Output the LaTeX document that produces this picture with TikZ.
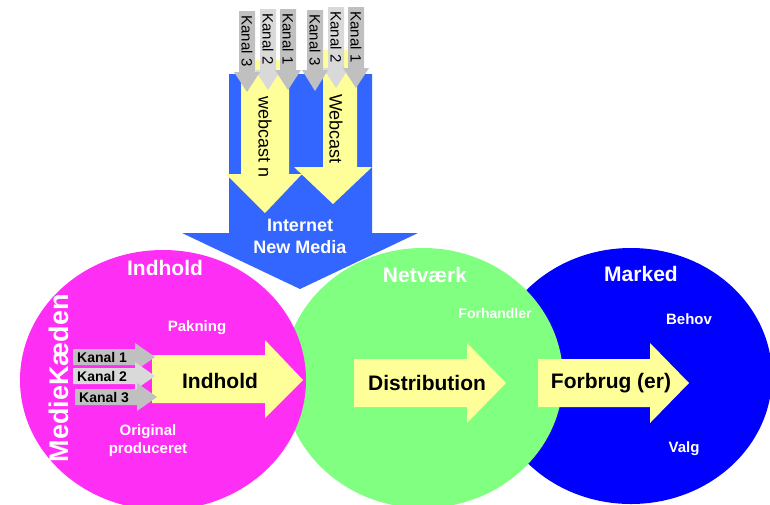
\documentclass[tikz,border=0pt]{standalone}
\usepackage{fontspec}
\setmainfont{Liberation Sans}
\usetikzlibrary{positioning}
\definecolor{kpink}{HTML}{FF2EF5}
\definecolor{kgreen}{HTML}{80FF80}
\definecolor{kblue}{HTML}{0000FF}
\definecolor{netblue}{HTML}{3366FF}
\definecolor{kyellow}{HTML}{FFFF99}
\definecolor{kgray}{HTML}{C0C0C0}
\definecolor{klight}{HTML}{D9D9D9}

\begin{document}
\begin{tikzpicture}[x=1pt, y=-1pt,
  title/.style={text=white, font=\fontsize{21}{25}\selectfont\bfseries},
  small/.style={text=white, font=\fontsize{15}{18}\selectfont\bfseries},
  arrowtext/.style={font=\fontsize{21}{25}\selectfont\bfseries},
  kanal/.style={font=\fontsize{14}{16}\selectfont\bfseries, inner sep=0pt},
  vkanal/.style={font=\fontsize{15}{17}\selectfont, rotate=-90, inner sep=0pt}]
\useasboundingbox (0,0) rectangle (770,504);

% Marked, Netvaerk and Indhold
\fill[kblue] (631,376) ellipse [x radius=141, y radius=128];
\fill[kgreen] (423,378) ellipse [x radius=140, y radius=130];
\fill[kpink] (163,380) ellipse [x radius=143, y radius=130];

\node[title] (indhold) at (165,268) {Indhold};
\node[small] (pakning) at (197,328) {Pakning};
\node[small, align=center] (original) at (148,441) {Original\\produceret};
\node[text=white, font=\fontsize{27}{30}\selectfont\bfseries, rotate=90] (kaeden) at (59,378) {MedieKæden};
\node[title] (netvaerk) at (425,275) {Netværk};
\node[small, font=\fontsize{14}{17}\selectfont\bfseries] (forhandler) at (495,313) {Forhandler};
\node[title] (marked) at (641,274) {Marked};
\node[small] (behov) at (689,319) {Behov};
\node[small] (valg) at (684,449) {Valg};

% Internet arrow
\fill[netblue] (229,74) -- (372,74) -- (372,233) -- (418,233) -- (300,289) -- (182,233) -- (229,233) -- cycle;
\node[small, font=\fontsize{18}{22}\selectfont\bfseries, align=center] (internet) at (300,236) {Internet\\New Media};

% Webcasts
\fill[kyellow] (241,60) -- (289,60) -- (289,174) -- (302,174) -- (265,213) -- (226,174) -- (241,174) -- cycle;
\fill[kyellow] (323,50) -- (357,50) -- (357,167) -- (372,167) -- (333,204) -- (294,167) -- (323,167) -- cycle;
\node[rotate=-90, font=\fontsize{18}{20}\selectfont] (webn) at (265,137) {webcast n};
\node[rotate=-90, font=\fontsize{18}{20}\selectfont] (webc) at (336,129) {Webcast};

% Kanaler into the webcasts
\foreach \cx/\top/\hy/\tip/\col/\lab in {268/9/70/90/klight/2, 247/11/72/92/kgray/3, 288/9/70/90/kgray/1,
    336/7/68/88/klight/2, 315/10/70/91/kgray/3, 356/7/68/88/kgray/1} {
  \fill[\col] (\cx-8,\top) -- (\cx+8,\top) -- (\cx+8,\hy) -- (\cx+13,\hy) -- (\cx,\tip) -- (\cx-13,\hy) -- (\cx-8,\hy) -- cycle;
  \node[vkanal] (top\cx) at (\cx,\top+30) {Kanal \lab};
}

% Value chain arrows
\fill[kyellow] (152,355) -- (265,355) -- (265,340) -- (303,380) -- (265,418) -- (265,403) -- (152,403) -- cycle;
\node[arrowtext] (indholdarrow) at (220,381) {Indhold};
\fill[kyellow] (354,359) -- (467,359) -- (467,343) -- (506,383) -- (467,423) -- (467,407) -- (354,407) -- cycle;
\node[arrowtext] (distribution) at (427,383) {Distribution};
\fill[kyellow] (538,359) -- (650,359) -- (650,343) -- (689,383) -- (650,423) -- (650,407) -- (538,407) -- cycle;
\node[arrowtext] (forbrug) at (611,383) {Forbrug (er)};

% Kanaler into Indhold
\foreach \cy/\xl/\tip/\col/\lab in {357/73/155/kgray/1, 376/73/155/klight/2, 397/75/157/kgray/3} {
  \fill[\col] (\xl,\cy-8) -- (\tip-20,\cy-8) -- (\tip-20,\cy-14) -- (\tip,\cy) -- (\tip-20,\cy+14) -- (\tip-20,\cy+8) -- (\xl,\cy+8) -- cycle;
  \node[kanal, anchor=west] (left\lab) at (\xl+4,\cy) {Kanal \lab};
}
\end{tikzpicture}
\end{document}
